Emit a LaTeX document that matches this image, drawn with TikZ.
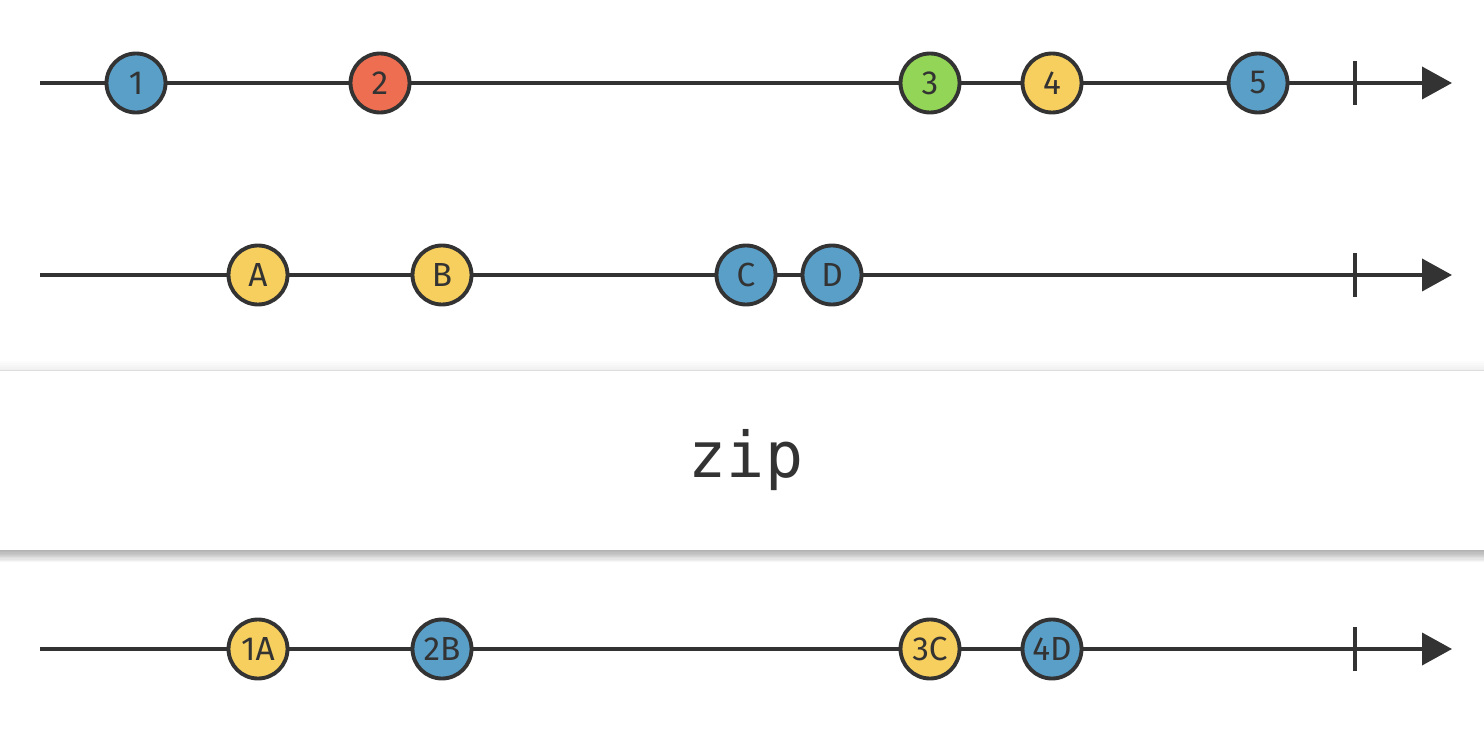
\documentclass[tikz,border=0pt]{standalone}
\usepackage{fontspec}
\setmainfont{Fira Sans}
\setmonofont{DejaVu Sans Mono}
\usepackage{tikz}
\usetikzlibrary{arrows.meta}
\definecolor{ink}{HTML}{333333}
\definecolor{mblue}{HTML}{5A9FC8}
\definecolor{mred}{HTML}{EE6E51}
\definecolor{mgreen}{HTML}{93D556}
\definecolor{myellow}{HTML}{F7CF5F}

\begin{document}
\begin{tikzpicture}[>={Triangle[length=3mm,width=3.2mm]}, line width=1.1pt, draw=ink]
\tikzstyle{marble}=[circle,draw=ink,line width=1.1pt,minimum size=0.59cm,inner sep=0pt,text=ink,font=\fontsize{9.5}{10}\selectfont]
\tikzstyle{timeline}=[->,draw=ink,line width=1.1pt]
\tikzstyle{tick}=[draw=ink,line width=1.1pt]
\useasboundingbox (0,0) rectangle (14.84,7.36);

% timelines
\coordinate (s1) at (0.40,6.53);
\coordinate (e1) at (14.52,6.53);
\coordinate (s2) at (0.40,4.61);
\coordinate (e2) at (14.52,4.61);
\coordinate (s3) at (0.40,0.87);
\coordinate (e3) at (14.52,0.87);
\draw[timeline] (s1) -- (e1);
\draw[timeline] (s2) -- (e2);
\draw[timeline] (s3) -- (e3);
\coordinate (t1) at (13.55,6.53);
\coordinate (t2) at (13.55,4.61);
\coordinate (t3) at (13.55,0.87);
\draw[tick] ([yshift=-0.22cm]t1) -- ([yshift=0.22cm]t1);
\draw[tick] ([yshift=-0.22cm]t2) -- ([yshift=0.22cm]t2);
\draw[tick] ([yshift=-0.22cm]t3) -- ([yshift=0.22cm]t3);

% first source
\node[marble,fill=mblue]   (n1) at (1.36,6.53)  {1};
\node[marble,fill=mred]    (n2) at (3.80,6.53)  {2};
\node[marble,fill=mgreen]  (n3) at (9.30,6.53)  {3};
\node[marble,fill=myellow] (n4) at (10.52,6.53) {4};
\node[marble,fill=mblue]   (n5) at (12.58,6.53) {5};

% second source
\node[marble,fill=myellow] (lA) at (2.58,4.61) {A};
\node[marble,fill=myellow] (lB) at (4.42,4.61) {B};
\node[marble,fill=mblue]   (lC) at (7.46,4.61) {C};
\node[marble,fill=mblue]   (lD) at (8.32,4.61) {D};

% operator box, soft shadow first
\foreach \i in {1,...,10}
  \fill[black,opacity=0.035] (0,1.86-0.012*\i) rectangle (14.84,2.5);
\foreach \i in {1,...,5}
  \fill[black,opacity=0.012] (0,3) rectangle (14.84,3.65+0.02*\i);
\fill[black,opacity=0.08] (0,3) rectangle (14.84,3.66);
\fill[white] (0,1.86) rectangle (14.84,3.65);
\node[text=ink,font=\fontsize{18}{20}\ttfamily] (zip) at (7.46,2.76) {zip};

% result
\node[marble,fill=myellow] (r1) at (2.58,0.87)  {1A};
\node[marble,fill=mblue]   (r2) at (4.42,0.87)  {2B};
\node[marble,fill=myellow] (r3) at (9.30,0.87)  {3C};
\node[marble,fill=mblue]   (r4) at (10.52,0.87) {4D};
\end{tikzpicture}
\end{document}
